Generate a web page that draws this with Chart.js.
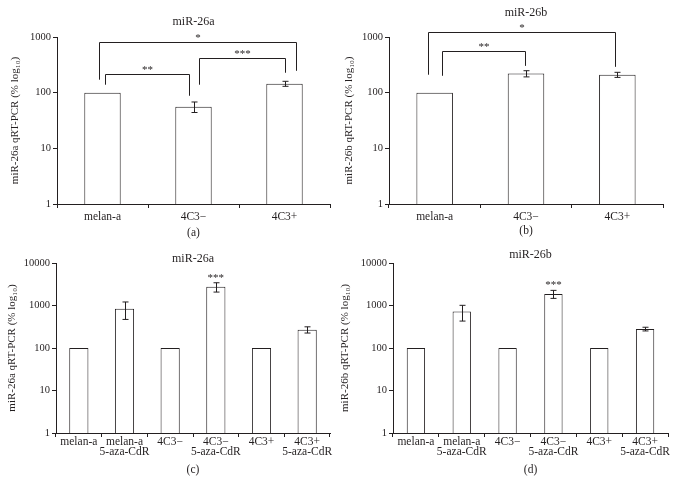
<!DOCTYPE html>
<html>
<head>
<meta charset="utf-8">
<script src="https://cdn.jsdelivr.net/npm/chart.js@4.4.0/dist/chart.umd.min.js"></script>
<style>
  body { margin: 0; background: #fff; }
  #wrap { position: relative; width: 675px; height: 485px; }
  canvas { position: absolute; }
</style>
</head>
<body>
<div id="wrap">
  <canvas id="chartA" width="337" height="242" style="left:0;top:0"></canvas>
  <canvas id="chartB" width="338" height="242" style="left:337px;top:0"></canvas>
  <canvas id="chartC" width="337" height="243" style="left:0;top:242px"></canvas>
  <canvas id="chartD" width="338" height="243" style="left:337px;top:242px"></canvas>
</div>
<script>
// ---- data ----
const topLabels = ["melan-a", "4C3\u2212", "4C3+"];
const miR26aCells = [100, 56, 145];
const miR26aCellsErr = [0, 12, 15];
const miR26bCells = [100, 220, 210];
const miR26bCellsErr = [0, 28, 22];

const azaLabels = [["melan-a"], ["melan-a", "5-aza-CdR"], ["4C3\u2212"], ["4C3\u2212", "5-aza-CdR"], ["4C3+"], ["4C3+", "5-aza-CdR"]];
const miR26aAza = [100, 840, 100, 2750, 100, 270];
const miR26aAzaErr = [0, 370, 0, 680, 0, 45];
const miR26bAza = [100, 720, 100, 1870, 100, 280];
const miR26bAzaErr = [0, 290, 0, 400, 0, 28];
const azaStars = ["", "", "", "***", "", ""];

// significance brackets (levels in axis units, ends as category index + shift)
const bracketsA = [
  { from: 0, fromShift: -0.04, to: 2, toShift: 0.13, level: 813, fromEnd: 171, toEnd: 247, text: "*" },
  { from: 0, fromShift: 0.03, to: 1, toShift: -0.05, level: 218, fromEnd: 139, toEnd: 88, text: "**" },
  { from: 1, fromShift: 0.06, to: 2, toShift: 0, level: 422, fromEnd: 139, toEnd: 228, text: "***" }
];
const bracketsB = [
  { from: 0, fromShift: -0.07, to: 2, toShift: -0.03, level: 1227, fromEnd: 210, toEnd: 291, text: "*" },
  { from: 0, fromShift: 0.08, to: 1, toShift: -0.01, level: 562, fromEnd: 201, toEnd: 303, text: "**" }
];

const ink = "#231f20";
const serif = "'Liberation Serif', 'Times New Roman', serif";

// error bars, stars, brackets and the panel title
const extrasPlugin = {
  id: "extras",
  afterDatasetsDraw(chart, args, opts) {
    const ctx = chart.ctx;
    const x = chart.scales.x, y = chart.scales.y;
    const step = x.width / chart.data.labels.length;
    const vals = chart.data.datasets[0].data;
    ctx.save();
    ctx.strokeStyle = ink;
    ctx.fillStyle = ink;
    ctx.lineWidth = 1;
    ctx.font = "11px " + serif;
    ctx.textAlign = "center";

    (opts.errors || []).forEach((e, i) => {
      if (!e) return;
      const cx = Math.round(x.getPixelForValue(i)) + 0.5;
      const yt = y.getPixelForValue(vals[i] + e);
      const yb = y.getPixelForValue(vals[i] - e);
      ctx.beginPath();
      ctx.moveTo(cx, yt); ctx.lineTo(cx, yb);
      ctx.moveTo(cx - 3, yt); ctx.lineTo(cx + 3, yt);
      ctx.moveTo(cx - 3, yb); ctx.lineTo(cx + 3, yb);
      ctx.stroke();
    });

    (opts.stars || []).forEach((s, i) => {
      if (!s) return;
      const top = y.getPixelForValue(vals[i] + (opts.errors[i] || 0));
      ctx.textBaseline = "alphabetic";
      ctx.fillText(s, x.getPixelForValue(i), top - 2);
    });

    (opts.brackets || []).forEach(b => {
      const x1 = Math.round(x.getPixelForValue(b.from) + b.fromShift * step) + 0.5;
      const x2 = Math.round(x.getPixelForValue(b.to) + b.toShift * step) + 0.5;
      const yl = Math.round(y.getPixelForValue(b.level)) + 0.5;
      ctx.beginPath();
      ctx.moveTo(x1, y.getPixelForValue(b.fromEnd));
      ctx.lineTo(x1, yl);
      ctx.lineTo(x2, yl);
      ctx.lineTo(x2, y.getPixelForValue(b.toEnd));
      ctx.stroke();
      ctx.textBaseline = "alphabetic";
      ctx.fillText(b.text, (x1 + x2) / 2, yl - 2);
    });

    ctx.font = "12px " + serif;
    ctx.textBaseline = "middle";
    ctx.fillText(opts.title, (chart.chartArea.left + chart.chartArea.right) / 2, opts.titleY);
    ctx.restore();
  }
};

function makeChart(id, cfg) {
  return new Chart(document.getElementById(id), {
    type: "bar",
    data: {
      labels: cfg.labels,
      datasets: [{
        data: cfg.values,
        backgroundColor: "#ffffff",
        borderColor: ink,
        borderWidth: 1,
        barPercentage: cfg.barPct,
        categoryPercentage: 1
      }]
    },
    options: {
      responsive: false,
      animation: false,
      layout: { padding: { top: cfg.top, right: cfg.right, left: 0, bottom: 0 } },
      plugins: {
        legend: { display: false },
        tooltip: { enabled: false },
        extras: { errors: cfg.errors, stars: cfg.stars, brackets: cfg.brackets, title: cfg.title, titleY: cfg.titleY }
      },
      scales: {
        x: {
          grid: { offset: true, drawOnChartArea: false, tickLength: 4, color: ink },
          border: { color: ink, width: 1 },
          ticks: {
            color: ink,
            font: { family: serif, size: 11.5, lineHeight: cfg.tickLH },
            padding: cfg.tickPad,
            maxRotation: 0,
            autoSkip: false
          },
          title: {
            display: true,
            text: cfg.sub,
            color: ink,
            font: { family: serif, size: 11.5 },
            padding: { top: 0, bottom: cfg.subPad }
          },
          afterFit: s => { s.height = cfg.xHeight; }
        },
        y: {
          type: "logarithmic",
          min: 1,
          max: cfg.max,
          afterBuildTicks: s => {
            const t = [];
            for (let v = 1; v <= cfg.max; v *= 10) t.push({ value: v });
            s.ticks = t;
          },
          grid: { drawOnChartArea: false, tickLength: 4, color: ink },
          border: { color: ink, width: 1 },
          ticks: {
            color: ink,
            font: { family: serif, size: 10.5 },
            padding: 2,
            callback: v => String(v)
          },
          title: {
            display: true,
            text: cfg.yTitle,
            color: ink,
            font: { family: serif, size: 11 },
            padding: { top: cfg.yTitlePad, bottom: 0 }
          },
          afterFit: s => { s.width = cfg.left; }
        }
      }
    },
    plugins: [extrasPlugin]
  });
}

makeChart("chartA", {
  labels: topLabels, values: miR26aCells, errors: miR26aCellsErr, brackets: bracketsA,
  title: "miR-26a", titleY: 22, sub: "(a)", subPad: 2.1, yTitle: "miR-26a qRT-PCR (% log\u2081\u2080)",
  yTitlePad: 9, max: 1000, top: 37, right: 7, left: 57, xHeight: 38, barPct: 0.4, tickLH: 1.2, tickPad: 2.5
});
makeChart("chartB", {
  labels: topLabels, values: miR26bCells, errors: miR26bCellsErr, brackets: bracketsB,
  title: "miR-26b", titleY: 13, sub: "(b)", subPad: 4, yTitle: "miR-26b qRT-PCR (% log\u2081\u2080)",
  yTitlePad: 6, max: 1000, top: 37, right: 12, left: 52, xHeight: 38, barPct: 0.4, tickLH: 1.2, tickPad: 2.5
});
makeChart("chartC", {
  labels: azaLabels, values: miR26aAza, errors: miR26aAzaErr, stars: azaStars,
  title: "miR-26a", titleY: 17, sub: "(c)", subPad: 8.1, yTitle: "miR-26a qRT-PCR (% log\u2081\u2080)",
  yTitlePad: 6, max: 10000, top: 21, right: 7, left: 56, xHeight: 52, barPct: 0.42, tickLH: 0.82, tickPad: 0.5
});
makeChart("chartD", {
  labels: azaLabels, values: miR26bAza, errors: miR26bAzaErr, stars: azaStars,
  title: "miR-26b", titleY: 13, sub: "(d)", subPad: 8.1, yTitle: "miR-26b qRT-PCR (% log\u2081\u2080)",
  yTitlePad: 1.5, max: 10000, top: 21, right: 7, left: 56, xHeight: 52, barPct: 0.4, tickLH: 0.82, tickPad: 0.5
});
</script>
</body>
</html>
